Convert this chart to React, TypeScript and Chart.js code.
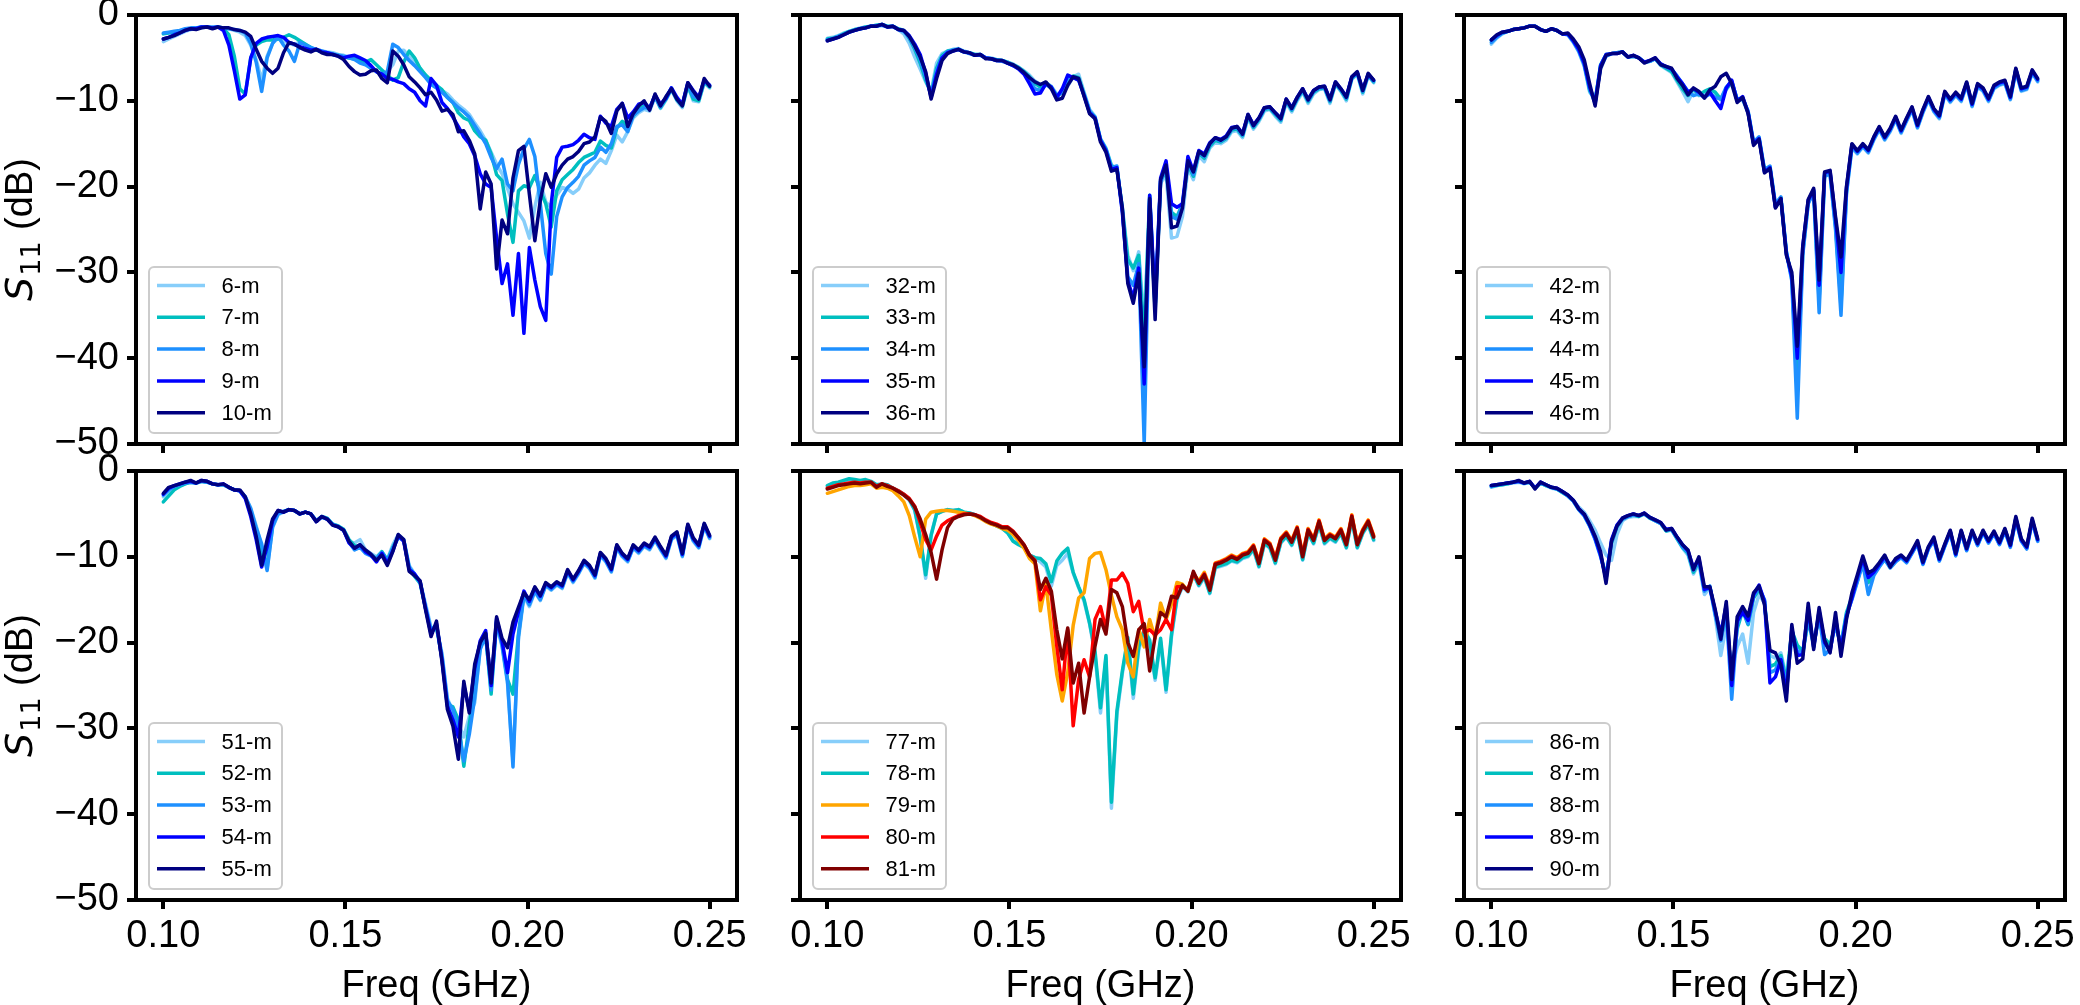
import React, { useEffect, useRef } from 'react';
import { Chart, registerables } from 'chart.js';

Chart.register(...registerables);

const FONT = "'Liberation Sans', Arial, Helvetica, sans-serif";
Chart.defaults.font.family = FONT;
Chart.defaults.color = '#000';

// Frequency sweep (GHz), 101 points
const FREQ_GHZ = [
  0.1000, 0.1015, 0.1030, 0.1045, 0.1060, 0.1075, 0.1090, 0.1105, 0.1120, 0.1135,
  0.1150, 0.1165, 0.1180, 0.1195, 0.1210, 0.1225, 0.1240, 0.1255, 0.1270, 0.1285,
  0.1300, 0.1315, 0.1330, 0.1345, 0.1360, 0.1375, 0.1390, 0.1405, 0.1420, 0.1435,
  0.1450, 0.1465, 0.1480, 0.1495, 0.1510, 0.1525, 0.1540, 0.1555, 0.1570, 0.1585,
  0.1600, 0.1615, 0.1630, 0.1645, 0.1660, 0.1675, 0.1690, 0.1705, 0.1720, 0.1735,
  0.1750, 0.1765, 0.1780, 0.1795, 0.1810, 0.1825, 0.1840, 0.1855, 0.1870, 0.1885,
  0.1900, 0.1915, 0.1930, 0.1945, 0.1960, 0.1975, 0.1990, 0.2005, 0.2020, 0.2035,
  0.2050, 0.2065, 0.2080, 0.2095, 0.2110, 0.2125, 0.2140, 0.2155, 0.2170, 0.2185,
  0.2200, 0.2215, 0.2230, 0.2245, 0.2260, 0.2275, 0.2290, 0.2305, 0.2320, 0.2335,
  0.2350, 0.2365, 0.2380, 0.2395, 0.2410, 0.2425, 0.2440, 0.2455, 0.2470, 0.2485,
  0.2500,
];

const X_TICKS = [0.10, 0.15, 0.20, 0.25];
const Y_TICKS = [-50, -40, -30, -20, -10, 0];

// ---- S11 (dB) per antenna ----
const S_6M = [
  -3.1,-2.8,-2.5,-2.2,-1.9,-1.7,-1.6,-1.5,-1.4,-1.5,
  -1.4,-1.5,-1.6,-1.8,-2.0,-2.4,-3.5,-5.2,-7.6,-4.8,
  -3.3,-2.7,-3.0,-3.3,-3.5,-3.1,-3.4,-3.8,-4.0,-4.2,
  -4.3,-4.4,-4.6,-4.7,-4.9,-5.1,-5.4,-5.7,-6.1,-6.6,
  -7.0,-6.6,-5.8,-4.2,-4.1,-4.9,-5.6,-6.3,-7.0,-7.8,
  -8.3,-8.8,-9.2,-9.9,-10.5,-11.0,-11.6,-12.6,-13.5,-14.6,
  -16.0,-17.4,-18.5,-20.2,-22.0,-23.0,-24.0,-26.0,-22.4,-19.5,
  -21.8,-22.4,-21.0,-20.1,-20.3,-20.8,-20.3,-19.0,-18.4,-17.5,
  -16.8,-17.3,-15.8,-14.0,-14.8,-13.6,-12.0,-11.4,-11.0,-11.2,
  -9.6,-10.9,-9.9,-8.7,-10.0,-10.8,-8.3,-10.0,-10.1,-7.9,
  -8.5,
];
const S_7M = [
  -2.2,-2.1,-2.0,-1.9,-1.7,-1.6,-1.5,-1.4,-1.4,-1.5,
  -1.4,-1.6,-2.3,-4.8,-8.6,-9.2,-5.0,-3.5,-3.1,-2.9,
  -2.9,-2.8,-2.6,-2.3,-2.6,-3.0,-3.4,-3.8,-4.1,-4.3,
  -4.4,-4.6,-4.7,-4.9,-5.0,-5.1,-5.3,-5.5,-5.2,-5.8,
  -6.4,-7.0,-7.6,-7.3,-5.5,-4.2,-5.0,-6.2,-7.0,-7.6,
  -8.2,-8.7,-9.6,-10.2,-11.4,-12.0,-12.3,-13.5,-14.2,-14.6,
  -16.2,-18.6,-19.3,-23.2,-26.5,-20.5,-19.9,-20.1,-18.7,-20.5,
  -22.0,-24.7,-20.5,-19.2,-18.6,-18.0,-17.2,-16.6,-16.3,-16.0,
  -14.7,-15.2,-15.5,-13.2,-12.4,-13.0,-11.8,-11.0,-10.6,-11.0,
  -9.4,-10.8,-9.8,-8.6,-9.9,-10.6,-8.2,-9.8,-10.0,-7.8,
  -8.4,
];
const S_8M = [
  -2.1,-2.0,-1.9,-1.8,-1.6,-1.5,-1.5,-1.4,-1.4,-1.4,
  -1.4,-1.5,-1.6,-1.7,-1.8,-2.1,-3.3,-5.5,-8.9,-5.0,
  -3.3,-2.5,-3.5,-4.2,-5.4,-3.2,-3.5,-3.8,-4.0,-4.2,
  -4.4,-4.5,-4.7,-4.8,-5.0,-5.2,-5.6,-5.8,-6.2,-6.6,
  -6.9,-6.6,-3.4,-3.8,-4.6,-5.3,-5.9,-6.6,-7.3,-8.1,
  -8.5,-9.0,-9.6,-10.2,-10.8,-11.3,-11.9,-12.9,-13.9,-15.0,
  -16.6,-17.9,-16.8,-19.7,-20.5,-17.4,-15.6,-14.5,-16.5,-22.0,
  -27.8,-30.2,-23.5,-21.2,-20.1,-19.5,-18.8,-17.5,-17.0,-16.6,
  -15.4,-16.0,-15.0,-13.0,-12.8,-13.6,-11.7,-11.2,-10.8,-10.8,
  -9.5,-10.7,-9.6,-8.5,-9.8,-10.4,-8.0,-9.5,-9.7,-7.7,
  -8.2,
];
const S_9M = [
  -2.8,-2.6,-2.3,-2.1,-1.8,-1.6,-1.6,-1.4,-1.4,-1.5,
  -1.4,-1.8,-3.5,-6.5,-9.8,-9.3,-5.0,-3.3,-2.8,-2.6,
  -2.5,-2.4,-2.6,-3.2,-3.4,-3.7,-3.9,-4.1,-4.0,-4.3,
  -4.4,-4.6,-4.8,-5.0,-4.8,-4.7,-5.0,-5.3,-5.9,-6.6,
  -6.9,-7.4,-7.5,-7.8,-8.0,-8.6,-9.0,-10.0,-10.6,-7.4,
  -8.2,-10.2,-10.9,-11.9,-13.0,-14.2,-15.0,-16.4,-18.5,-19.7,
  -20.1,-26.0,-31.3,-29.0,-35.0,-27.8,-37.1,-27.1,-30.9,-34.0,
  -35.6,-22.0,-16.6,-15.4,-15.3,-15.1,-14.6,-13.9,-14.3,-14.5,
  -11.8,-12.6,-13.0,-11.0,-10.3,-12.0,-11.3,-10.4,-10.2,-10.9,
  -9.3,-10.4,-9.7,-8.5,-9.6,-10.4,-7.9,-8.8,-9.6,-7.6,
  -8.2,
];
const S_10M = [
  -2.8,-2.6,-2.4,-2.1,-1.8,-1.6,-1.7,-1.5,-1.4,-1.6,
  -1.4,-1.5,-1.5,-1.7,-1.8,-2.0,-2.5,-4.0,-5.4,-6.2,
  -6.8,-6.2,-4.4,-3.2,-3.4,-3.8,-4.1,-4.3,-4.0,-4.4,
  -4.6,-4.6,-4.8,-5.2,-6.0,-6.6,-7.0,-6.9,-6.5,-6.4,
  -7.4,-7.9,-4.2,-4.8,-5.8,-7.2,-7.8,-8.5,-9.3,-9.0,
  -9.9,-11.2,-11.0,-11.6,-13.6,-13.5,-14.6,-16.2,-22.6,-18.3,
  -19.7,-29.6,-23.9,-25.5,-19.0,-15.8,-15.3,-20.9,-26.3,-21.6,
  -18.5,-20.1,-18.5,-17.5,-16.8,-16.5,-15.9,-15.0,-14.8,-14.2,
  -11.9,-12.4,-13.8,-11.2,-10.3,-13.0,-11.5,-10.6,-10.0,-11.1,
  -9.2,-10.6,-9.5,-8.6,-9.8,-10.6,-7.9,-8.9,-9.8,-7.4,
  -8.3,
];

const S_32M = [
  -2.7,-2.6,-2.4,-2.1,-1.9,-1.7,-1.5,-1.4,-1.3,-1.2,
  -1.1,-1.3,-1.4,-1.7,-2.2,-3.3,-4.9,-6.3,-7.8,-8.9,
  -5.6,-4.5,-4.2,-4.0,-3.9,-4.2,-4.4,-4.6,-4.6,-5.0,
  -5.0,-5.2,-5.3,-5.5,-5.7,-6.1,-6.5,-7.0,-7.7,-8.1,
  -7.9,-8.3,-9.2,-9.1,-8.3,-7.2,-6.9,-9.0,-11.0,-11.8,
  -14.4,-15.5,-17.5,-17.9,-22.4,-28.0,-29.8,-27.6,-36.0,-21.5,
  -34.0,-19.6,-18.6,-26.0,-25.8,-23.5,-17.8,-19.2,-16.4,-17.1,
  -15.5,-14.8,-15.0,-14.6,-13.6,-13.5,-14.3,-12.0,-13.3,-12.4,
  -11.2,-11.0,-11.8,-12.5,-10.2,-11.3,-10.0,-9.0,-10.3,-9.2,
  -8.7,-8.6,-10.3,-8.1,-8.9,-10.0,-7.5,-6.9,-9.2,-7.1,
  -7.9,
];
const S_33M = [
  -2.8,-2.7,-2.5,-2.2,-1.9,-1.7,-1.6,-1.4,-1.3,-1.2,
  -1.1,-1.3,-1.3,-1.6,-1.8,-2.7,-4.0,-5.6,-7.6,-9.2,
  -6.2,-4.7,-4.2,-4.1,-4.0,-4.3,-4.4,-4.6,-4.6,-5.0,
  -5.1,-5.2,-5.3,-5.5,-5.8,-6.1,-6.6,-7.2,-8.0,-8.4,
  -7.9,-8.4,-9.4,-9.0,-7.8,-7.1,-7.3,-9.2,-11.2,-11.9,
  -14.5,-15.6,-17.6,-17.8,-22.6,-28.5,-29.5,-28.0,-38.0,-21.0,
  -34.5,-19.3,-18.2,-23.0,-23.5,-22.0,-17.4,-18.8,-16.1,-16.7,
  -15.3,-14.6,-14.8,-14.4,-13.4,-13.3,-14.1,-11.8,-13.1,-12.2,
  -11.0,-10.9,-11.6,-12.3,-10.0,-11.1,-9.8,-8.8,-10.1,-9.0,
  -8.6,-8.5,-10.1,-8.0,-8.8,-9.8,-7.4,-6.8,-9.0,-7.0,
  -7.8,
];
const S_34M = [
  -2.9,-2.8,-2.5,-2.3,-2.0,-1.8,-1.6,-1.5,-1.3,-1.3,
  -1.2,-1.4,-1.3,-1.7,-1.9,-2.6,-3.8,-5.2,-7.2,-9.4,
  -6.5,-4.9,-4.3,-4.1,-4.0,-4.3,-4.5,-4.7,-4.7,-5.0,
  -5.1,-5.3,-5.4,-5.6,-5.9,-6.2,-6.8,-7.6,-8.6,-8.8,
  -8.1,-8.5,-9.6,-8.9,-7.4,-7.2,-7.6,-9.3,-11.2,-12.0,
  -14.5,-15.7,-17.8,-17.6,-22.8,-30.5,-31.5,-29.0,-50.0,-21.2,
  -34.0,-19.4,-17.8,-23.5,-23.8,-22.2,-17.2,-18.6,-16.0,-16.5,
  -15.1,-14.4,-14.7,-14.3,-13.3,-13.1,-14.0,-11.7,-13.0,-12.1,
  -10.9,-10.8,-11.5,-12.2,-9.9,-11.0,-9.7,-8.7,-10.0,-8.9,
  -8.5,-8.4,-10.0,-7.9,-8.7,-9.7,-7.3,-6.7,-8.9,-6.9,
  -7.7,
];
const S_35M = [
  -3.0,-2.8,-2.6,-2.3,-2.0,-1.8,-1.6,-1.5,-1.3,-1.3,
  -1.1,-1.4,-1.3,-1.7,-1.8,-2.4,-3.4,-4.6,-6.8,-9.6,
  -6.9,-5.0,-4.4,-4.2,-4.0,-4.3,-4.4,-4.7,-4.6,-5.0,
  -5.1,-5.3,-5.3,-5.6,-5.9,-6.3,-6.9,-8.0,-9.2,-9.1,
  -8.0,-8.4,-9.6,-8.6,-7.0,-7.3,-7.6,-9.4,-11.4,-12.0,
  -14.6,-15.8,-18.0,-17.8,-23.0,-31.0,-33.0,-29.5,-43.0,-21.0,
  -33.5,-19.0,-17.0,-22.0,-22.4,-22.0,-16.5,-18.2,-15.8,-16.2,
  -14.9,-14.3,-14.5,-14.1,-13.1,-13.0,-13.8,-11.6,-12.8,-12.0,
  -10.8,-10.7,-11.4,-12.0,-9.8,-10.8,-9.6,-8.6,-9.8,-8.8,
  -8.4,-8.3,-9.8,-7.8,-8.6,-9.5,-7.2,-6.7,-8.7,-6.9,
  -7.6,
];
const S_36M = [
  -3.0,-2.8,-2.6,-2.3,-2.0,-1.8,-1.6,-1.5,-1.3,-1.3,
  -1.1,-1.4,-1.3,-1.7,-1.8,-2.5,-3.6,-4.9,-6.6,-9.8,
  -7.4,-5.3,-4.5,-4.2,-4.0,-4.3,-4.4,-4.7,-4.6,-5.1,
  -5.1,-5.3,-5.3,-5.6,-5.8,-6.2,-6.7,-7.3,-7.8,-8.1,
  -7.8,-8.6,-9.9,-9.7,-8.2,-7.2,-7.4,-9.5,-11.5,-12.1,
  -14.8,-16.0,-18.2,-18.0,-22.5,-31.3,-33.6,-30.1,-41.0,-21.4,
  -35.5,-19.2,-17.5,-24.8,-24.6,-22.5,-17.0,-18.3,-15.9,-16.4,
  -15.0,-14.3,-14.6,-14.2,-13.2,-13.0,-13.9,-11.6,-12.9,-12.0,
  -10.8,-10.7,-11.4,-12.1,-9.8,-10.9,-9.6,-8.6,-9.9,-8.8,
  -8.4,-8.3,-9.9,-7.8,-8.6,-9.6,-7.2,-6.6,-8.8,-6.8,
  -7.6,
];

const S_42M = [
  -3.4,-2.7,-2.2,-1.9,-1.7,-1.6,-1.5,-1.3,-1.3,-1.7,
  -1.9,-1.6,-1.8,-2.2,-2.3,-3.2,-4.3,-6.0,-9.0,-9.8,
  -6.3,-4.8,-4.5,-4.4,-4.3,-4.9,-4.8,-5.0,-5.5,-5.4,
  -5.1,-5.9,-6.3,-6.7,-7.8,-8.9,-10.1,-8.8,-9.4,-9.2,
  -8.8,-9.3,-9.9,-8.7,-7.9,-10.0,-9.9,-11.4,-15.0,-14.4,
  -18.2,-17.8,-22.4,-21.5,-27.8,-30.8,-44.0,-27.8,-21.9,-20.7,
  -33.5,-18.8,-18.6,-24.6,-34.0,-20.9,-15.5,-16.2,-15.4,-16.1,
  -14.6,-13.4,-14.6,-13.6,-12.2,-13.8,-12.4,-11.1,-13.2,-11.4,
  -9.9,-11.3,-12.1,-9.3,-10.2,-9.4,-10.1,-8.2,-10.7,-8.4,
  -8.9,-10.1,-8.6,-8.2,-8.0,-9.9,-6.6,-8.9,-8.7,-6.8,
  -7.8,
];
const S_43M = [
  -3.0,-2.5,-2.1,-1.9,-1.7,-1.6,-1.5,-1.3,-1.3,-1.7,
  -1.9,-1.6,-1.8,-2.2,-2.2,-3.0,-4.1,-5.7,-8.8,-10.0,
  -5.8,-4.6,-4.5,-4.4,-4.3,-4.9,-4.8,-5.0,-5.5,-5.4,
  -5.1,-5.8,-6.2,-6.6,-7.6,-8.6,-9.4,-8.6,-9.3,-8.9,
  -8.6,-9.0,-9.8,-8.6,-7.8,-9.8,-9.7,-11.3,-14.9,-14.3,
  -18.1,-17.7,-22.2,-21.3,-27.6,-30.6,-43.0,-27.6,-21.8,-20.5,
  -33.0,-18.6,-18.4,-24.4,-33.5,-20.5,-15.3,-16.0,-15.2,-15.9,
  -14.4,-13.2,-14.4,-13.4,-12.0,-13.6,-12.2,-10.9,-13.0,-11.2,
  -9.7,-11.1,-11.9,-9.1,-10.0,-9.2,-9.9,-8.0,-10.5,-8.2,
  -8.7,-9.9,-8.4,-8.0,-7.8,-9.7,-6.4,-8.7,-8.5,-6.6,
  -7.6,
];
const S_44M = [
  -3.2,-2.6,-2.1,-1.9,-1.7,-1.6,-1.5,-1.3,-1.3,-1.7,
  -1.9,-1.6,-1.8,-2.2,-2.3,-3.1,-4.2,-5.8,-8.6,-10.3,
  -6.0,-4.8,-4.5,-4.4,-4.3,-4.9,-4.8,-5.0,-5.5,-5.4,
  -5.1,-5.7,-6.1,-6.3,-7.1,-8.0,-8.9,-9.4,-9.2,-9.6,
  -9.2,-9.6,-9.8,-8.4,-7.7,-9.9,-9.8,-11.2,-14.8,-14.2,
  -18.0,-17.6,-22.0,-21.2,-27.5,-31.0,-47.0,-28.0,-22.0,-20.6,
  -34.7,-18.7,-18.6,-25.0,-35.0,-20.8,-15.4,-16.1,-15.3,-16.0,
  -14.5,-13.3,-14.5,-13.5,-12.1,-13.7,-12.3,-11.0,-13.1,-11.3,
  -9.8,-11.2,-12.0,-9.2,-10.1,-9.3,-10.0,-8.1,-10.6,-8.3,
  -8.8,-10.0,-8.5,-8.1,-7.9,-9.8,-6.5,-8.8,-8.6,-6.7,
  -7.7,
];
const S_45M = [
  -2.9,-2.4,-2.0,-1.9,-1.7,-1.6,-1.5,-1.3,-1.3,-1.7,
  -1.9,-1.6,-1.8,-2.2,-2.2,-3.0,-4.0,-5.6,-8.4,-10.2,
  -5.9,-4.6,-4.5,-4.5,-4.3,-4.9,-4.7,-5.0,-5.5,-5.3,
  -5.0,-5.7,-6.0,-6.3,-7.2,-8.0,-9.0,-8.6,-9.0,-9.6,
  -9.0,-10.0,-10.9,-8.5,-7.6,-10.0,-9.5,-11.4,-15.0,-14.4,
  -18.3,-17.8,-22.4,-21.4,-27.8,-30.5,-40.0,-27.0,-21.6,-20.4,
  -31.5,-18.4,-18.2,-23.8,-30.0,-20.2,-15.1,-15.9,-15.1,-15.8,
  -14.3,-13.1,-14.3,-13.3,-11.9,-13.5,-12.1,-10.8,-12.9,-11.1,
  -9.6,-11.0,-11.8,-9.0,-9.9,-9.1,-9.8,-7.9,-10.4,-8.1,
  -8.6,-9.8,-8.3,-7.9,-7.7,-9.6,-6.3,-8.6,-8.4,-6.5,
  -7.5,
];
const S_46M = [
  -2.9,-2.3,-2.0,-1.9,-1.7,-1.6,-1.5,-1.3,-1.3,-1.7,
  -1.9,-1.6,-1.8,-2.2,-2.1,-2.8,-3.7,-5.2,-8.0,-10.6,
  -6.2,-4.7,-4.5,-4.5,-4.3,-4.9,-4.7,-5.0,-5.6,-5.3,
  -5.0,-5.8,-6.0,-6.2,-7.4,-8.2,-9.3,-8.5,-8.9,-9.7,
  -8.7,-8.3,-7.2,-6.8,-8.0,-10.2,-9.6,-11.5,-15.2,-14.5,
  -18.4,-17.9,-22.5,-21.4,-28.0,-30.0,-38.6,-27.0,-21.5,-20.2,
  -30.9,-18.3,-18.1,-23.5,-28.2,-20.0,-15.0,-15.8,-15.0,-15.7,
  -14.2,-13.0,-14.2,-13.2,-11.8,-13.4,-12.0,-10.7,-12.8,-11.0,
  -9.5,-10.9,-11.7,-8.9,-9.8,-9.0,-9.7,-7.8,-10.3,-8.0,
  -8.5,-9.7,-8.2,-7.8,-7.6,-9.5,-6.2,-8.5,-8.3,-6.4,
  -7.4,
];

const S_51M = [
  -3.0,-2.4,-2.0,-1.7,-1.5,-1.3,-1.4,-1.2,-1.3,-1.5,
  -1.6,-1.6,-1.9,-2.2,-2.3,-3.0,-4.3,-6.4,-8.8,-11.4,
  -6.6,-5.1,-4.8,-4.5,-4.6,-5.0,-4.8,-5.0,-5.8,-5.4,
  -5.6,-6.2,-6.4,-6.9,-8.2,-8.4,-8.0,-9.2,-9.6,-10.0,
  -9.4,-10.3,-8.6,-7.4,-8.0,-11.0,-12.0,-12.9,-15.5,-18.2,
  -18.4,-21.2,-26.5,-28.0,-29.5,-31.0,-28.6,-27.0,-20.5,-19.4,
  -25.2,-17.8,-20.5,-24.8,-33.8,-19.6,-14.6,-15.8,-14.1,-15.1,
  -13.4,-13.9,-13.3,-13.7,-11.9,-13.0,-12.0,-10.8,-11.4,-12.5,
  -9.9,-10.6,-11.8,-9.0,-10.0,-10.6,-9.0,-9.6,-8.8,-9.2,
  -8.1,-9.2,-10.2,-8.0,-7.5,-10.0,-6.6,-8.2,-9.0,-6.5,
  -7.9,
];
const S_52M = [
  -3.6,-2.9,-2.2,-1.8,-1.5,-1.3,-1.4,-1.2,-1.3,-1.5,
  -1.6,-1.6,-1.9,-2.2,-2.3,-3.1,-4.6,-6.9,-9.6,-10.9,
  -6.2,-4.9,-4.7,-4.5,-4.6,-5.0,-4.8,-5.0,-5.8,-5.3,
  -5.5,-6.2,-6.4,-6.8,-8.0,-8.7,-8.8,-9.5,-9.8,-10.2,
  -9.4,-10.4,-8.9,-7.7,-8.1,-11.3,-12.3,-13.1,-16.0,-18.8,
  -18.2,-21.8,-27.2,-27.5,-29.0,-34.4,-29.5,-25.5,-20.2,-19.0,
  -26.0,-17.4,-20.0,-24.3,-26.0,-19.0,-14.3,-15.4,-13.9,-14.9,
  -13.2,-13.7,-13.1,-13.5,-11.7,-12.8,-11.8,-10.6,-11.2,-12.3,
  -9.7,-10.4,-11.6,-8.8,-9.8,-10.4,-8.8,-9.4,-8.6,-9.0,
  -7.9,-9.0,-10.0,-7.8,-7.3,-9.8,-6.4,-8.0,-8.8,-6.3,
  -7.7,
];
const S_53M = [
  -2.8,-2.2,-1.8,-1.6,-1.4,-1.3,-1.4,-1.2,-1.3,-1.5,
  -1.6,-1.6,-1.9,-2.2,-2.3,-3.0,-4.4,-6.6,-8.5,-11.6,
  -6.5,-5.0,-4.7,-4.5,-4.6,-5.0,-4.8,-5.0,-5.8,-5.4,
  -5.6,-6.2,-6.5,-6.9,-8.3,-9.2,-8.9,-9.6,-9.9,-10.2,
  -9.5,-10.5,-9.0,-7.8,-8.0,-11.2,-12.1,-13.0,-15.8,-18.5,
  -18.0,-21.5,-26.8,-27.8,-30.0,-33.8,-30.7,-26.4,-20.8,-19.2,
  -25.5,-17.6,-20.3,-24.5,-34.5,-19.3,-14.4,-15.6,-14.0,-15.0,
  -13.3,-13.8,-13.2,-13.6,-11.8,-12.9,-11.9,-10.7,-11.3,-12.4,
  -9.8,-10.5,-11.7,-8.9,-9.9,-10.5,-8.9,-9.5,-8.7,-9.1,
  -8.0,-9.1,-10.1,-7.9,-7.4,-9.9,-6.5,-8.1,-8.9,-6.4,
  -7.8,
];
const S_54M = [
  -2.7,-2.0,-1.7,-1.5,-1.3,-1.2,-1.4,-1.1,-1.2,-1.5,
  -1.6,-1.5,-1.9,-2.2,-2.3,-3.2,-5.3,-8.0,-11.2,-8.8,
  -5.8,-4.6,-4.8,-4.5,-4.6,-5.0,-4.8,-5.0,-5.9,-5.3,
  -5.6,-6.3,-6.5,-6.9,-8.4,-9.0,-8.6,-9.4,-9.8,-10.6,
  -9.6,-10.8,-9.3,-7.5,-8.2,-11.5,-12.0,-12.9,-16.0,-19.0,
  -17.8,-22.0,-27.4,-29.0,-31.0,-25.0,-27.8,-23.0,-19.8,-18.6,
  -25.0,-17.2,-19.8,-23.5,-19.0,-16.4,-14.0,-15.2,-13.6,-14.6,
  -13.1,-13.6,-13.0,-13.4,-11.6,-12.7,-11.7,-10.5,-11.1,-12.2,
  -9.6,-10.3,-11.5,-8.7,-9.7,-10.3,-8.7,-9.3,-8.5,-8.9,
  -7.8,-8.9,-9.9,-7.7,-7.2,-9.7,-6.3,-7.9,-8.7,-6.2,
  -7.6,
];
const S_55M = [
  -2.6,-1.9,-1.7,-1.5,-1.3,-1.1,-1.4,-1.1,-1.2,-1.5,
  -1.6,-1.5,-1.9,-2.2,-2.2,-3.0,-5.0,-7.6,-11.0,-8.0,
  -5.6,-4.6,-4.8,-4.5,-4.6,-5.0,-4.8,-5.0,-5.9,-5.3,
  -5.6,-6.3,-6.5,-6.9,-8.2,-9.0,-8.6,-9.2,-9.7,-10.4,
  -9.8,-11.0,-9.4,-7.4,-8.0,-11.7,-12.2,-12.8,-16.2,-19.3,
  -17.5,-22.2,-27.8,-29.7,-33.6,-24.5,-28.2,-22.5,-20.0,-18.9,
  -24.7,-17.0,-19.5,-20.6,-17.6,-15.9,-14.2,-15.0,-13.5,-14.5,
  -13.0,-13.5,-12.9,-13.3,-11.5,-12.6,-11.6,-10.4,-11.0,-12.1,
  -9.5,-10.2,-11.4,-8.6,-9.6,-10.2,-8.6,-9.2,-8.4,-8.8,
  -7.7,-8.8,-9.8,-7.6,-7.1,-9.6,-6.2,-7.8,-8.6,-6.1,
  -7.5,
];

const S_77M = [
  -1.8,-1.5,-1.4,-1.2,-1.0,-1.1,-1.2,-1.1,-1.3,-1.7,
  -1.6,-1.7,-2.1,-2.4,-2.8,-3.4,-4.6,-7.8,-12.5,-7.4,
  -5.0,-4.7,-4.5,-4.6,-4.5,-4.8,-4.9,-5.1,-5.4,-5.8,
  -6.1,-6.4,-6.7,-7.2,-8.1,-8.5,-8.9,-9.8,-10.1,-10.6,
  -11.2,-13.4,-11.0,-10.4,-9.6,-11.9,-13.6,-15.2,-17.8,-21.4,
  -28.2,-21.8,-39.3,-28.4,-23.6,-19.8,-26.5,-20.8,-18.8,-20.0,
  -24.4,-19.8,-25.8,-19.3,-15.0,-13.5,-14.1,-12.1,-13.4,-12.4,
  -14.3,-11.3,-11.1,-10.9,-10.5,-10.7,-10.2,-10.0,-9.2,-11.2,
  -8.5,-9.0,-10.8,-8.4,-7.7,-8.7,-7.1,-10.4,-7.3,-8.5,
  -6.3,-8.5,-7.9,-8.3,-7.3,-9.0,-5.7,-9.0,-7.3,-6.3,
  -8.1,
];
const S_78M = [
  -1.7,-1.4,-1.3,-1.1,-0.9,-1.0,-1.1,-1.0,-1.2,-1.6,
  -1.5,-1.6,-2.0,-2.3,-2.7,-3.3,-4.5,-7.7,-12.1,-7.5,
  -5.0,-4.7,-4.5,-4.6,-4.5,-4.8,-4.9,-5.1,-5.4,-5.8,
  -6.1,-6.4,-6.7,-7.2,-8.2,-8.6,-8.9,-9.8,-10.1,-10.2,
  -10.8,-12.9,-10.5,-9.6,-9.0,-11.8,-13.5,-15.0,-17.7,-21.0,
  -27.6,-21.5,-38.6,-28.0,-23.3,-19.4,-26.0,-20.5,-18.5,-19.7,
  -24.1,-19.5,-25.5,-19.0,-14.8,-13.3,-14.0,-12.0,-13.3,-12.3,
  -14.2,-11.2,-11.0,-10.8,-10.4,-10.6,-10.1,-9.9,-9.1,-11.1,
  -8.4,-8.9,-10.7,-8.3,-7.6,-8.6,-7.0,-10.3,-7.2,-8.4,
  -6.2,-8.4,-7.8,-8.2,-7.2,-8.9,-5.6,-8.9,-7.2,-6.2,
  -8.0,
];
const S_79M = [
  -2.6,-2.4,-2.2,-2.0,-1.8,-1.7,-1.7,-1.6,-1.5,-2.0,
  -1.9,-2.0,-2.3,-2.9,-3.6,-5.2,-7.7,-10.0,-5.6,-4.8,
  -4.7,-4.6,-4.6,-4.7,-4.8,-4.9,-5.0,-5.2,-5.5,-5.9,
  -6.2,-6.4,-6.7,-6.9,-7.4,-8.1,-9.0,-10.2,-10.8,-16.3,
  -13.1,-18.5,-23.7,-26.8,-23.5,-18.0,-14.8,-14.2,-10.2,-9.6,
  -9.5,-11.5,-14.5,-17.0,-18.5,-22.4,-24.0,-18.5,-20.5,-17.3,
  -19.5,-15.4,-17.3,-15.5,-13.0,-13.2,-14.0,-12.0,-12.8,-11.8,
  -13.5,-10.7,-10.5,-10.2,-9.8,-10.1,-9.6,-9.4,-8.6,-10.5,
  -7.9,-8.4,-10.1,-7.8,-7.1,-8.1,-6.5,-9.7,-6.7,-7.9,
  -5.7,-7.9,-7.3,-7.7,-6.7,-8.4,-5.1,-8.4,-6.8,-5.7,
  -7.5,
];
const S_80M = [
  -2.0,-1.8,-1.6,-1.5,-1.4,-1.3,-1.4,-1.3,-1.3,-1.8,
  -1.5,-1.7,-2.0,-2.3,-2.7,-3.2,-4.1,-6.0,-8.0,-9.2,
  -7.6,-6.3,-5.8,-5.5,-5.2,-5.0,-5.0,-5.1,-5.3,-5.7,
  -6.0,-6.2,-6.5,-6.5,-7.0,-7.8,-8.6,-9.8,-10.4,-15.0,
  -13.5,-14.5,-20.4,-25.5,-18.5,-29.7,-24.3,-22.0,-24.0,-17.3,
  -15.8,-18.5,-12.7,-12.7,-11.9,-13.1,-16.4,-15.2,-18.8,-18.5,
  -19.1,-18.5,-17.3,-18.5,-13.5,-13.5,-13.8,-11.9,-13.0,-12.0,
  -13.6,-10.8,-10.6,-10.3,-9.9,-10.2,-9.7,-9.5,-8.7,-10.6,
  -8.0,-8.5,-10.2,-7.9,-7.2,-8.2,-6.6,-9.8,-6.8,-8.0,
  -5.8,-8.0,-7.4,-7.8,-6.8,-8.5,-5.2,-8.5,-6.9,-5.8,
  -7.6,
];
const S_81M = [
  -2.1,-1.9,-1.7,-1.6,-1.5,-1.4,-1.5,-1.4,-1.3,-1.9,
  -1.5,-1.8,-2.0,-2.4,-2.8,-3.3,-4.2,-5.6,-7.4,-9.5,
  -12.6,-9.2,-6.6,-5.6,-5.3,-5.1,-5.0,-5.1,-5.4,-5.8,
  -6.1,-6.3,-6.6,-6.6,-7.1,-7.8,-8.6,-9.8,-10.5,-13.8,
  -12.5,-14.0,-18.5,-21.9,-18.3,-24.7,-22.4,-28.2,-24.0,-20.4,
  -17.3,-19.0,-13.8,-14.2,-15.8,-20.0,-21.6,-18.5,-17.8,-23.3,
  -19.3,-16.5,-17.0,-14.6,-14.8,-13.3,-14.0,-11.7,-13.1,-12.1,
  -13.9,-10.9,-10.7,-10.4,-10.0,-10.3,-9.8,-9.6,-8.8,-10.8,
  -8.1,-8.6,-10.4,-8.0,-7.3,-8.3,-6.7,-10.0,-6.9,-8.1,
  -5.9,-8.1,-7.5,-7.9,-6.9,-8.6,-5.3,-8.6,-7.0,-5.9,
  -7.7,
];

const S_86M = [
  -1.9,-1.7,-1.6,-1.5,-1.4,-1.3,-1.5,-1.3,-2.0,-1.4,
  -1.7,-2.0,-2.1,-2.5,-2.9,-3.4,-4.2,-4.8,-5.8,-6.9,
  -8.4,-9.8,-10.4,-7.4,-5.8,-5.4,-5.3,-5.3,-5.0,-5.5,
  -5.8,-6.1,-7.0,-6.9,-7.9,-9.0,-9.8,-12.0,-10.8,-14.4,
  -13.6,-17.0,-21.5,-18.0,-23.0,-20.5,-19.0,-22.4,-16.5,-14.4,
  -15.4,-21.5,-21.8,-21.2,-24.0,-19.0,-20.8,-21.5,-17.3,-20.6,
  -16.5,-20.2,-20.6,-17.6,-20.6,-16.9,-14.9,-12.6,-10.4,-12.7,
  -12.0,-11.1,-10.2,-11.2,-10.5,-10.0,-10.6,-9.5,-8.4,-10.8,
  -9.0,-8.0,-10.4,-8.7,-7.1,-9.8,-7.1,-9.2,-7.1,-8.6,
  -7.1,-8.3,-7.2,-8.5,-6.9,-8.8,-5.6,-8.1,-9.0,-5.8,
  -8.1,
];
const S_87M = [
  -1.8,-1.7,-1.6,-1.5,-1.3,-1.2,-1.4,-1.3,-2.0,-1.4,
  -1.7,-1.9,-2.1,-2.5,-2.9,-3.5,-4.5,-5.2,-6.4,-7.9,
  -9.8,-12.2,-8.4,-6.5,-5.6,-5.3,-5.1,-5.3,-5.0,-5.5,
  -5.8,-6.1,-7.0,-6.8,-7.9,-8.9,-9.6,-11.8,-10.5,-13.9,
  -13.5,-16.6,-19.5,-16.8,-24.0,-18.4,-16.3,-17.9,-14.8,-13.8,
  -15.1,-22.8,-22.5,-21.5,-24.5,-18.6,-20.3,-21.0,-17.5,-20.0,
  -17.0,-19.5,-20.2,-18.0,-20.2,-16.5,-14.7,-12.8,-10.5,-13.0,
  -12.0,-11.1,-10.2,-11.2,-10.5,-10.0,-10.6,-9.5,-8.4,-10.8,
  -9.0,-8.0,-10.4,-8.7,-7.1,-9.8,-7.1,-9.2,-7.1,-8.6,
  -7.1,-8.3,-7.2,-8.5,-6.9,-8.8,-5.6,-8.1,-9.0,-5.8,
  -8.1,
];
const S_88M = [
  -1.8,-1.6,-1.5,-1.4,-1.3,-1.2,-1.4,-1.3,-2.0,-1.4,
  -1.6,-1.9,-2.1,-2.4,-2.9,-3.5,-4.5,-5.2,-6.4,-8.0,
  -10.0,-12.3,-8.3,-6.4,-5.6,-5.3,-5.1,-5.2,-5.0,-5.4,
  -5.8,-6.1,-6.9,-6.8,-7.8,-8.8,-9.5,-11.6,-10.4,-14.0,
  -13.4,-16.8,-19.8,-16.4,-26.6,-18.0,-16.0,-17.8,-14.6,-13.6,
  -15.0,-23.5,-23.2,-21.8,-25.0,-19.6,-21.0,-21.2,-17.0,-20.3,
  -16.8,-21.4,-20.8,-17.8,-20.5,-16.8,-15.0,-12.9,-10.8,-14.4,
  -12.2,-11.2,-10.3,-11.3,-10.6,-10.1,-10.7,-9.6,-8.5,-10.9,
  -9.1,-8.1,-10.5,-8.8,-7.2,-9.9,-7.2,-9.3,-7.2,-8.7,
  -7.2,-8.4,-7.3,-8.6,-7.0,-8.9,-5.7,-8.2,-9.1,-5.9,
  -8.2,
];
const S_89M = [
  -1.7,-1.6,-1.5,-1.4,-1.3,-1.2,-1.4,-1.2,-2.0,-1.3,
  -1.6,-1.9,-2.0,-2.4,-2.8,-3.4,-4.4,-5.1,-6.3,-7.8,
  -9.8,-12.6,-8.0,-6.3,-5.5,-5.2,-5.0,-5.2,-4.9,-5.4,
  -5.7,-6.0,-6.8,-6.7,-7.7,-8.6,-9.3,-11.3,-10.2,-13.8,
  -13.6,-16.4,-19.0,-15.6,-25.0,-17.5,-16.5,-17.4,-14.4,-13.3,
  -15.2,-24.7,-24.0,-22.0,-26.0,-18.4,-21.5,-21.4,-16.0,-20.5,
  -16.3,-20.0,-21.0,-17.2,-20.8,-17.0,-14.8,-12.4,-10.2,-12.4,
  -11.8,-10.9,-10.0,-11.0,-10.4,-9.9,-10.5,-9.4,-8.3,-10.7,
  -8.9,-7.9,-10.3,-8.6,-7.0,-9.7,-7.0,-9.1,-7.0,-8.5,
  -7.0,-8.2,-7.1,-8.4,-6.8,-8.7,-5.5,-8.0,-8.9,-5.7,
  -8.0,
];
const S_90M = [
  -1.7,-1.6,-1.5,-1.4,-1.3,-1.1,-1.4,-1.2,-2.1,-1.3,
  -1.6,-1.9,-2.0,-2.4,-2.8,-3.4,-4.4,-5.0,-6.2,-7.6,
  -9.4,-13.1,-8.2,-6.4,-5.5,-5.2,-5.0,-5.2,-4.9,-5.4,
  -5.7,-6.0,-6.9,-6.7,-7.7,-8.6,-9.2,-11.5,-10.0,-13.5,
  -13.5,-16.2,-19.6,-15.2,-24.3,-17.0,-15.8,-16.9,-14.2,-13.4,
  -15.6,-20.9,-21.2,-22.6,-26.8,-17.9,-22.4,-21.9,-15.4,-20.8,
  -15.9,-19.7,-21.2,-16.5,-21.6,-17.3,-14.2,-12.1,-9.9,-11.9,
  -11.5,-10.7,-9.8,-11.2,-10.2,-9.8,-10.4,-9.3,-8.1,-10.6,
  -8.8,-7.7,-10.2,-8.5,-6.9,-9.6,-6.9,-9.0,-6.9,-8.4,
  -6.9,-8.1,-7.0,-8.3,-6.7,-8.6,-5.3,-7.9,-8.8,-5.5,
  -7.9,
];

const COLORS_BLUE = ['#87CEFA', '#00BFBF', '#1E90FF', '#0000FF', '#000080'];
const COLORS_WARM = ['#87CEFA', '#00BFBF', '#FFA500', '#FF0000', '#800000'];

type PanelSpec = { row: number; col: number; labels: string[]; series: number[][]; colors: string[] };

const PANELS: PanelSpec[] = [
  { row: 0, col: 0, labels: ['6-m', '7-m', '8-m', '9-m', '10-m'], series: [S_6M, S_7M, S_8M, S_9M, S_10M], colors: COLORS_BLUE },
  { row: 0, col: 1, labels: ['32-m', '33-m', '34-m', '35-m', '36-m'], series: [S_32M, S_33M, S_34M, S_35M, S_36M], colors: COLORS_BLUE },
  { row: 0, col: 2, labels: ['42-m', '43-m', '44-m', '45-m', '46-m'], series: [S_42M, S_43M, S_44M, S_45M, S_46M], colors: COLORS_BLUE },
  { row: 1, col: 0, labels: ['51-m', '52-m', '53-m', '54-m', '55-m'], series: [S_51M, S_52M, S_53M, S_54M, S_55M], colors: COLORS_BLUE },
  { row: 1, col: 1, labels: ['77-m', '78-m', '79-m', '80-m', '81-m'], series: [S_77M, S_78M, S_79M, S_80M, S_81M], colors: COLORS_WARM },
  { row: 1, col: 2, labels: ['86-m', '87-m', '88-m', '89-m', '90-m'], series: [S_86M, S_87M, S_88M, S_89M, S_90M], colors: COLORS_BLUE },
];

// Page layout of the plot areas (px)
const COL_LEFT = [136, 800, 1464];
const PLOT_W = 601;
const ROW_TOP = [15, 471];
const ROW_BOTTOM = [444, 900];
const PAGE_H = 1005;

function panelGeometry(row: number, col: number) {
  const left = COL_LEFT[col];
  const right = left + PLOT_W;
  const top = ROW_TOP[row];
  const bottom = ROW_BOTTOM[row];
  const x0 = col === 0 ? 0 : left - 40;
  const y0 = row === 0 ? -40 : 420;
  const w = right + 30 - x0;
  const h = row === 0 ? bottom + 40 - y0 : PAGE_H - y0;
  return { x0, y0, w, h, yAxisW: left - x0, xAxisH: y0 + h - bottom, padTop: top - y0 };
}

const gridOpts = {
  display: true,
  drawOnChartArea: false,
  drawTicks: true,
  tickLength: 9,
  lineWidth: 4,
  color: '#000',
};

function Panel({ spec }: { spec: PanelSpec }) {
  const ref = useRef<HTMLCanvasElement | null>(null);
  const g = panelGeometry(spec.row, spec.col);

  useEffect(() => {
    if (!ref.current) return;
    const n = spec.series.length;

    const framePlugin = {
      id: 'frame',
      afterDatasetsDraw(chart: any) {
        const { ctx, chartArea: a } = chart;
        ctx.save();
        ctx.strokeStyle = '#000';
        ctx.lineWidth = 4;
        ctx.strokeRect(a.left, a.top, a.right - a.left, a.bottom - a.top);
        ctx.restore();
      },
    };

    const legendPlugin = {
      id: 'innerLegend',
      afterDraw(chart: any) {
        const { ctx, chartArea: a } = chart;
        const bw = 133;
        const bh = 166;
        const bx = a.left + 13;
        const by = a.bottom - 11 - bh;
        const r = 5;
        ctx.save();
        ctx.beginPath();
        ctx.moveTo(bx + r, by);
        ctx.lineTo(bx + bw - r, by);
        ctx.arcTo(bx + bw, by, bx + bw, by + r, r);
        ctx.lineTo(bx + bw, by + bh - r);
        ctx.arcTo(bx + bw, by + bh, bx + bw - r, by + bh, r);
        ctx.lineTo(bx + r, by + bh);
        ctx.arcTo(bx, by + bh, bx, by + bh - r, r);
        ctx.lineTo(bx, by + r);
        ctx.arcTo(bx, by, bx + r, by, r);
        ctx.closePath();
        ctx.fillStyle = 'rgba(255,255,255,0.8)';
        ctx.fill();
        ctx.strokeStyle = '#cccccc';
        ctx.lineWidth = 2;
        ctx.stroke();
        chart.data.datasets.forEach((ds: any, k: number) => {
          const cy = by + 18.5 + k * 31.8;
          ctx.beginPath();
          ctx.moveTo(bx + 8, cy);
          ctx.lineTo(bx + 56, cy);
          ctx.strokeStyle = ds.borderColor;
          ctx.lineWidth = 3.5;
          ctx.stroke();
          ctx.fillStyle = '#000';
          ctx.font = `22px ${FONT}`;
          ctx.textAlign = 'left';
          ctx.textBaseline = 'middle';
          ctx.fillText(ds.label, bx + 72.6, cy + 1);
        });
        ctx.restore();
      },
    };

    const titlesPlugin = {
      id: 'axisTitles',
      afterDraw(chart: any) {
        const { ctx, chartArea: a } = chart;
        ctx.save();
        ctx.fillStyle = '#000';
        if (spec.row === 1) {
          ctx.font = `38px ${FONT}`;
          ctx.textAlign = 'center';
          ctx.textBaseline = 'alphabetic';
          ctx.fillText('Freq (GHz)', (a.left + a.right) / 2, 997 - g.y0);
        }
        if (spec.col === 0) {
          ctx.translate(32 - g.x0, (a.top + a.bottom) / 2);
          ctx.rotate(-Math.PI / 2);
          ctx.textAlign = 'left';
          ctx.textBaseline = 'alphabetic';
          const fS = "italic 38px 'DejaVu Sans', sans-serif";
          const fSub = "27px 'DejaVu Sans', sans-serif";
          const fMain = `38px ${FONT}`;
          ctx.font = fS;
          const wS = ctx.measureText('S').width;
          ctx.font = fSub;
          const wSub = ctx.measureText('11').width;
          ctx.font = fMain;
          const wRest = ctx.measureText(' (dB)').width;
          let x = -(wS + wSub + 2 + wRest) / 2;
          ctx.font = fS;
          ctx.fillText('S', x, 0);
          x += wS + 1;
          ctx.font = fSub;
          ctx.fillText('11', x, 8);
          x += wSub + 1;
          ctx.font = fMain;
          ctx.fillText(' (dB)', x, 0);
        }
        ctx.restore();
      },
    };

    const chart = new Chart(ref.current, {
      type: 'line',
      data: {
        datasets: spec.series.map((s, k) => ({
          label: spec.labels[k],
          data: FREQ_GHZ.map((f, i) => ({ x: f, y: s[i] })),
          borderColor: spec.colors[k],
          backgroundColor: spec.colors[k],
          borderWidth: 3.5,
          borderJoinStyle: 'round',
          borderCapStyle: 'round',
          pointRadius: 0,
          pointHoverRadius: 0,
          tension: 0,
          fill: false,
          order: n - k,
        })),
      },
      options: {
        responsive: false,
        animation: false,
        devicePixelRatio: 1,
        events: [],
        layout: { padding: { top: g.padTop, right: 30, bottom: 0, left: 0 } },
        plugins: {
          legend: { display: false },
          tooltip: { enabled: false },
          title: { display: false },
        },
        scales: {
          x: {
            type: 'linear',
            position: 'bottom',
            min: 0.0925,
            max: 0.2575,
            afterBuildTicks: (scale: any) => {
              scale.ticks = X_TICKS.map((v) => ({ value: v }));
            },
            afterFit: (scale: any) => {
              scale.height = g.xAxisH;
            },
            grid: gridOpts,
            border: { display: false },
            ticks: {
              display: spec.row === 1,
              padding: 5,
              autoSkip: false,
              maxRotation: 0,
              color: '#000',
              font: { size: 38, family: FONT },
              callback: (v: any) => Number(v).toFixed(2),
            },
          },
          y: {
            type: 'linear',
            position: 'left',
            min: -50,
            max: 0,
            afterBuildTicks: (scale: any) => {
              scale.ticks = Y_TICKS.map((v) => ({ value: v }));
            },
            afterFit: (scale: any) => {
              scale.width = g.yAxisW;
            },
            grid: gridOpts,
            border: { display: false },
            ticks: {
              display: spec.col === 0,
              padding: 8,
              color: '#000',
              font: { size: 38, family: FONT },
              callback: (v: any) => (Number(v) === 0 ? '0' : '\u2212' + Math.abs(Number(v))),
            },
          },
        },
      },
      plugins: [framePlugin, legendPlugin, titlesPlugin],
    } as any);

    return () => chart.destroy();
  }, []);

  return (
    <canvas
      ref={ref}
      width={g.w}
      height={g.h}
      style={{ position: 'absolute', left: g.x0, top: g.y0, width: g.w, height: g.h }}
    />
  );
}

export default function App() {
  return (
    <div
      style={{
        position: 'absolute',
        left: 0,
        top: 0,
        width: 2080,
        height: 1005,
        overflow: 'hidden',
        background: '#fff',
      }}
    >
      {PANELS.map((p, i) => (
        <Panel key={i} spec={p} />
      ))}
    </div>
  );
}
